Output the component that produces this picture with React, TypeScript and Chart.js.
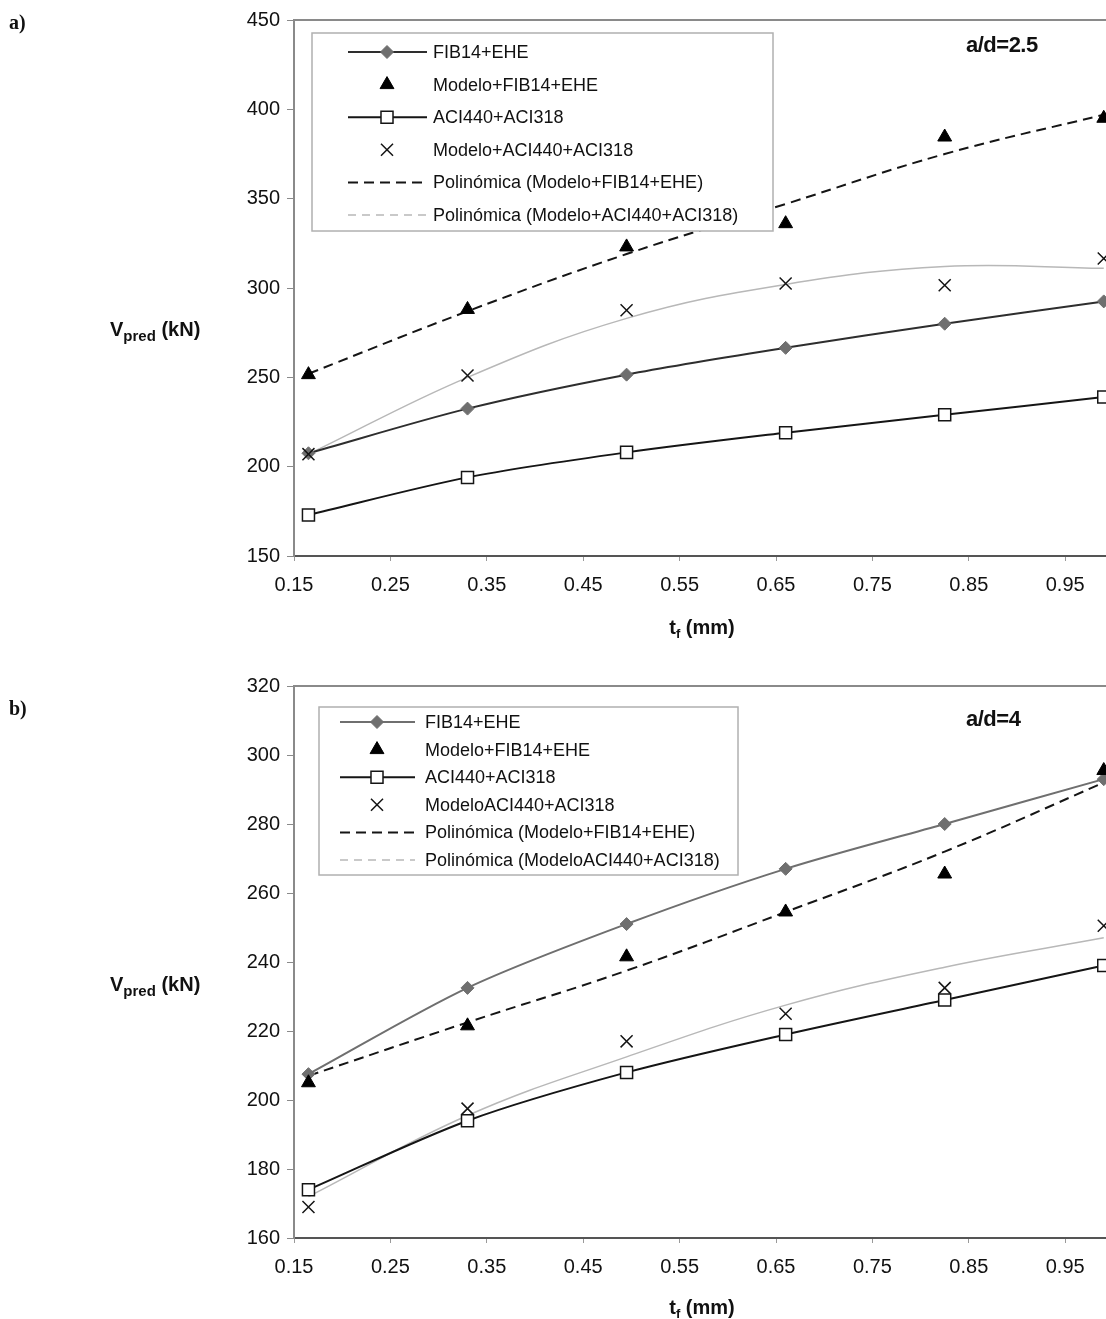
import React, { useEffect, useRef } from 'react';
import { Chart, registerables } from 'chart.js';

Chart.register(...registerables);

// ---------- data ----------
const tf = [0.165, 0.33, 0.495, 0.66, 0.825, 0.99];
const xTickValues = [0.15, 0.25, 0.35, 0.45, 0.55, 0.65, 0.75, 0.85, 0.95, 1.05];
const xTickLabels = ['0.15', '0.25', '0.35', '0.45', '0.55', '0.65', '0.75', '0.85', '0.95', '1.05'];
const yTicksA = [150, 200, 250, 300, 350, 400, 450];
const yTicksB = [160, 180, 200, 220, 240, 260, 280, 300, 320];

const labelsA = [
  'FIB14+EHE',
  'Modelo+FIB14+EHE',
  'ACI440+ACI318',
  'Modelo+ACI440+ACI318',
  'Polinómica (Modelo+FIB14+EHE)',
  'Polinómica (Modelo+ACI440+ACI318)',
];
const labelsB = [
  'FIB14+EHE',
  'Modelo+FIB14+EHE',
  'ACI440+ACI318',
  'ModeloACI440+ACI318',
  'Polinómica (Modelo+FIB14+EHE)',
  'Polinómica (ModeloACI440+ACI318)',
];

// a) a/d = 2.5
const fibA = [207.5, 232.5, 251.5, 266.5, 280, 292.5];
const modeloFibA = [251.5, 288, 323, 336, 384.5, 395];
const aciA = [173, 194, 208, 219, 229, 239];
const modeloAciA = [207, 251, 287.5, 302.5, 301.5, 316.5];
const polyFibA = [252, 287, 319, 347, 375, 397];
const polyAciA = [207, 250, 283, 302, 312, 311];

// b) a/d = 4
const fibB = [207.5, 232.5, 251, 267, 280, 293];
const modeloFibB = [205, 221.5, 241.5, 254.5, 265.5, 295.5];
const aciB = [174, 194, 208, 219, 229, 239];
const modeloAciB = [169, 197.5, 217, 225, 232.5, 250.5];
const polyFibB = [207, 222.5, 237.5, 254.5, 272, 292];
const polyAciB = [172, 195.5, 212.5, 227.5, 238.5, 247];

// ---------- helpers ----------
const FONT = "'Liberation Sans', Arial, sans-serif";

function drawMarker(ctx: CanvasRenderingContext2D, style: string, x: number, y: number, r: number, bg: string, border: string, bw: number) {
  ctx.save();
  ctx.setLineDash([]);
  ctx.beginPath();
  if (style === 'rectRot') {
    ctx.moveTo(x - r, y);
    ctx.lineTo(x, y - r);
    ctx.lineTo(x + r, y);
    ctx.lineTo(x, y + r);
    ctx.closePath();
  } else if (style === 'triangle') {
    ctx.moveTo(x, y - r);
    ctx.lineTo(x + 0.866 * r, y + 0.5 * r);
    ctx.lineTo(x - 0.866 * r, y + 0.5 * r);
    ctx.closePath();
  } else if (style === 'rect') {
    const s = Math.SQRT1_2 * r;
    ctx.rect(x - s, y - s, 2 * s, 2 * s);
  } else if (style === 'crossRot') {
    const o = Math.SQRT1_2 * r;
    ctx.moveTo(x - o, y - o);
    ctx.lineTo(x + o, y + o);
    ctx.moveTo(x - o, y + o);
    ctx.lineTo(x + o, y - o);
  }
  if (style !== 'crossRot') {
    ctx.fillStyle = bg;
    ctx.fill();
  }
  ctx.strokeStyle = border;
  ctx.lineWidth = bw;
  ctx.stroke();
  ctx.restore();
}

interface LegendCfg {
  x: number; y: number; w: number; h: number;
  row0: number; gap: number;
  lx1: number; lx2: number; mx: number; tx: number; fontSize: number;
}

function makeFramePlugin(cfg: LegendCfg) {
  return {
    id: 'frameAndLegend',
    afterDraw(chart: any) {
      const ctx: CanvasRenderingContext2D = chart.ctx;
      const area = chart.chartArea;
      ctx.save();
      // top frame line
      ctx.strokeStyle = '#8a8a8a';
      ctx.lineWidth = 2;
      ctx.beginPath();
      ctx.moveTo(area.left, area.top);
      ctx.lineTo(area.right, area.top);
      ctx.stroke();
      // legend box
      ctx.fillStyle = '#ffffff';
      ctx.fillRect(cfg.x, cfg.y, cfg.w, cfg.h);
      ctx.strokeStyle = '#b0b0b0';
      ctx.lineWidth = 1.5;
      ctx.strokeRect(cfg.x, cfg.y, cfg.w, cfg.h);
      chart.data.datasets.forEach((ds: any, i: number) => {
        const cy = cfg.row0 + i * cfg.gap;
        if (ds.showLine !== false) {
          ctx.beginPath();
          ctx.setLineDash(ds.legendDash || ds.borderDash || []);
          ctx.strokeStyle = ds.borderColor;
          ctx.lineWidth = ds.borderWidth;
          ctx.moveTo(cfg.lx1, cy);
          ctx.lineTo(cfg.lx2, cy);
          ctx.stroke();
          ctx.setLineDash([]);
        }
        if (ds.pointRadius > 0) {
          drawMarker(ctx, ds.pointStyle, cfg.mx, cy, ds.pointRadius, ds.pointBackgroundColor, ds.pointBorderColor, ds.pointBorderWidth);
        }
        ctx.fillStyle = '#111';
        ctx.font = `${cfg.fontSize}px ${FONT}`;
        ctx.textBaseline = 'middle';
        ctx.textAlign = 'left';
        ctx.fillText(ds.label, cfg.tx, cy + 1);
      });
      ctx.restore();
    },
  };
}

function buildDatasets(labels: string[], fib: number[], modeloFib: number[], aci: number[], modeloAci: number[], polyFib: number[], polyAci: number[], fibColor: string) {
  const pts = (arr: number[]) => tf.map((x, i) => ({ x, y: arr[i] }));
  return [
    { label: labels[0], data: pts(fib), showLine: true, borderColor: fibColor, borderWidth: 2, tension: 0.3, pointStyle: 'rectRot', pointRadius: 6.5, pointBackgroundColor: '#6f6f6f', pointBorderColor: '#6f6f6f', pointBorderWidth: 1, order: 1 },
    { label: labels[1], data: pts(modeloFib), showLine: false, borderColor: '#000', pointStyle: 'triangle', pointRadius: 8, pointBackgroundColor: '#000', pointBorderColor: '#000', pointBorderWidth: 1, order: 0 },
    { label: labels[2], data: pts(aci), showLine: true, borderColor: '#151515', borderWidth: 2, tension: 0.3, pointStyle: 'rect', pointRadius: 8.5, pointBackgroundColor: '#ffffff', pointBorderColor: '#151515', pointBorderWidth: 1.5, order: 1 },
    { label: labels[3], data: pts(modeloAci), showLine: false, borderColor: '#151515', pointStyle: 'crossRot', pointRadius: 8.5, pointBackgroundColor: '#151515', pointBorderColor: '#151515', pointBorderWidth: 1.5, order: 0 },
    { label: labels[4], data: pts(polyFib), showLine: true, borderColor: '#151515', borderWidth: 2, borderDash: [10, 6], tension: 0.4, pointRadius: 0, order: 2 },
    { label: labels[5], data: pts(polyAci), showLine: true, borderColor: '#b8b8b8', borderWidth: 1.5, tension: 0.4, pointRadius: 0, legendDash: [8, 6], order: 2 },
  ];
}

function buildConfig(datasets: any[], yMin: number, yMax: number, yTicks: number[], padTop: number, xAxisH: number, legend: LegendCfg) {
  const tickFont = { family: FONT, size: 20 };
  return {
    type: 'line' as const,
    data: { datasets },
    plugins: [makeFramePlugin(legend)],
    options: {
      responsive: false,
      animation: false as const,
      devicePixelRatio: 1,
      layout: { padding: { top: padTop, right: 38.4, left: 0, bottom: 0 } },
      plugins: { legend: { display: false }, tooltip: { enabled: false }, title: { display: false } },
      scales: {
        x: {
          type: 'linear' as const,
          min: 0.15,
          max: 1.05,
          afterBuildTicks: (s: any) => { s.ticks = xTickValues.map((v) => ({ value: v })); },
          afterFit: (s: any) => { s.height = xAxisH; },
          ticks: { callback: (_v: any, i: number) => xTickLabels[i], font: tickFont, color: '#111', padding: 12, maxRotation: 0, autoSkip: false },
          grid: { drawOnChartArea: false, tickLength: 5, color: '#9a9a9a', lineWidth: 1 },
          border: { color: '#555', width: 2 },
        },
        y: {
          type: 'linear' as const,
          min: yMin,
          max: yMax,
          afterBuildTicks: (s: any) => { s.ticks = yTicks.map((v) => ({ value: v })); },
          afterFit: (s: any) => { s.width = 294; },
          ticks: { font: tickFont, color: '#111', padding: 7 },
          grid: { drawOnChartArea: false, tickLength: 7, color: '#8a8a8a', lineWidth: 1 },
          border: { color: '#8a8a8a', width: 2 },
        },
      },
    },
  };
}

const abs = (left: number, top: number, extra: React.CSSProperties = {}): React.CSSProperties => ({
  position: 'absolute', left, top, whiteSpace: 'nowrap', lineHeight: 1, ...extra,
});

const axisTitleStyle: React.CSSProperties = { fontFamily: FONT, fontWeight: 'bold', fontSize: 20, color: '#111' };
const panelLabelStyle: React.CSSProperties = { fontFamily: "'Liberation Serif', 'DejaVu Serif', serif", fontWeight: 'bold', fontSize: 20, color: '#111' };

export default function App() {
  const refA = useRef<HTMLCanvasElement>(null);
  const refB = useRef<HTMLCanvasElement>(null);

  useEffect(() => {
    const dsA = buildDatasets(labelsA, fibA, modeloFibA, aciA, modeloAciA, polyFibA, polyAciA, '#2e2e2e');
    const dsB = buildDatasets(labelsB, fibB, modeloFibB, aciB, modeloAciB, polyFibB, polyAciB, '#6f6f6f');
    const legendA: LegendCfg = { x: 312, y: 33, w: 461, h: 198, row0: 52, gap: 32.6, lx1: 348, lx2: 427, mx: 387, tx: 433, fontSize: 18 };
    const legendB: LegendCfg = { x: 319, y: 47, w: 419, h: 168, row0: 62, gap: 27.6, lx1: 340, lx2: 415, mx: 377, tx: 425, fontSize: 18 };
    const chartA = new Chart(refA.current as HTMLCanvasElement, buildConfig(dsA, 150, 450, yTicksA, 20, 94, legendA) as any);
    const chartB = new Chart(refB.current as HTMLCanvasElement, buildConfig(dsB, 160, 320, yTicksB, 26, 81, legendB) as any);
    return () => {
      chartA.destroy();
      chartB.destroy();
    };
  }, []);

  return (
    <div style={{ position: 'absolute', left: 0, top: 0, width: 1106, height: 1319, overflow: 'hidden', background: '#fff' }}>
      <canvas ref={refA} width={1200} height={650} style={{ position: 'absolute', left: 0, top: 0 }} />
      <canvas ref={refB} width={1200} height={659} style={{ position: 'absolute', left: 0, top: 660 }} />

      <div style={abs(9, 12, panelLabelStyle)}>a)</div>
      <div style={abs(9, 698, panelLabelStyle)}>b)</div>

      <div style={abs(110, 319, axisTitleStyle)}>V<span style={{ fontSize: 15, position: 'relative', top: 5 }}>pred</span> (kN)</div>
      <div style={abs(110, 974, axisTitleStyle)}>V<span style={{ fontSize: 15, position: 'relative', top: 5 }}>pred</span> (kN)</div>

      <div style={abs(702, 617, { ...axisTitleStyle, transform: 'translateX(-50%)' })}>t<span style={{ fontSize: 13, position: 'relative', top: 4 }}>f</span> (mm)</div>
      <div style={abs(702, 1297, { ...axisTitleStyle, transform: 'translateX(-50%)' })}>t<span style={{ fontSize: 13, position: 'relative', top: 4 }}>f</span> (mm)</div>

      <div style={abs(966, 34, { ...axisTitleStyle, fontSize: 22, letterSpacing: -0.5 })}>a/d=2.5</div>
      <div style={abs(966, 708, { ...axisTitleStyle, fontSize: 22, letterSpacing: -0.5 })}>a/d=4</div>
    </div>
  );
}
